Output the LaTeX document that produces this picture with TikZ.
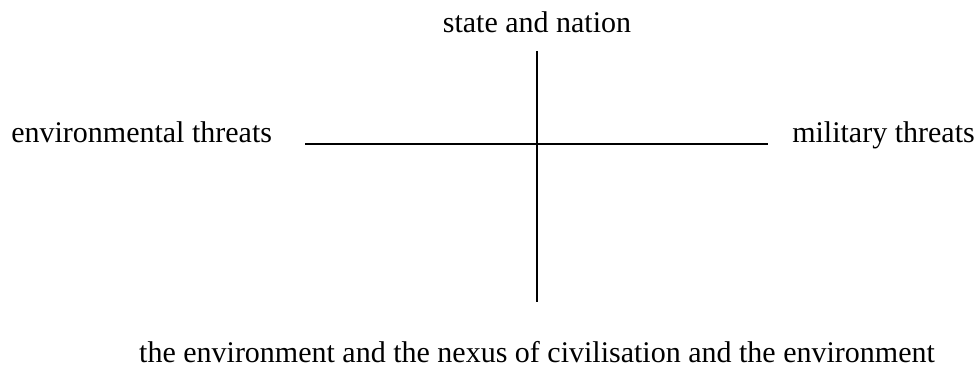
\documentclass[tikz,border=0pt]{standalone}
\usepackage{fontspec}
\setmainfont{Liberation Serif}
\usepackage{tikz}
\usetikzlibrary{positioning, calc}
\definecolor{axInk}{HTML}{000000}
\tikzset{
  axlabel/.style={inner sep=0pt, font=\rmfamily\fontsize{22.5}{27}\selectfont, text=axInk},
  axline/.style={line width=1pt, axInk}
}
\begin{document}
\begin{tikzpicture}[x=0.75pt, y=0.75pt]
  \useasboundingbox (0,0) rectangle (979,368);
  \coordinate (ytop) at (537,317);
  \coordinate (ybot) at (537,66);
  \coordinate (xleft) at (305,224);
  \coordinate (xright) at (768,224);
  \node[axlabel, anchor=base] (state) at (537,335) {state and nation};
  \node[axlabel, anchor=base west] (envthr) at (11,225) {environmental threats};
  \node[axlabel, anchor=base east] (milthr) at (975,225) {military threats};
  \node[axlabel, anchor=base] (nexus) at (537,6) {the environment and the nexus of civilisation and the environment};
  \draw[axline] (ytop) -- (ybot);
  \draw[axline] (xleft) -- (xright);
\end{tikzpicture}
\end{document}
